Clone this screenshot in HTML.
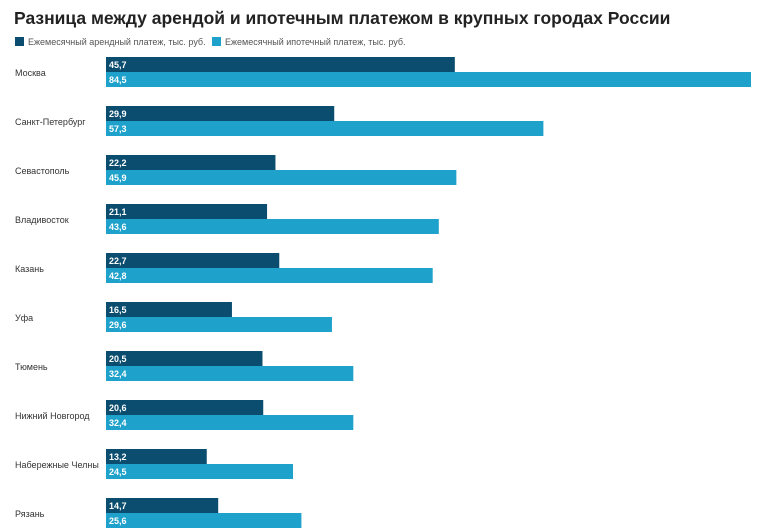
<!DOCTYPE html>
<html><head><meta charset="utf-8"><style>
body{margin:0;background:#fff;font-family:"Liberation Sans",sans-serif}
svg{display:block}
</style></head><body>
<svg id="chart" width="758" height="530" xmlns="http://www.w3.org/2000/svg">
<text x="14" y="24" font-size="17.5" font-weight="bold" fill="#222">Разница между арендой и ипотечным платежом в крупных городах России</text>
<g>
<rect x="15" y="37" width="9" height="9" fill="#0b4d6f"/>
<text x="28" y="45" font-size="9" fill="#555">Ежемесячный арендный платеж, тыс. руб.</text>
<rect x="212" y="37" width="9" height="9" fill="#1ea1cb"/>
<text x="225" y="45" font-size="9" fill="#555">Ежемесячный ипотечный платеж, тыс. руб.</text>
</g>
<g id="bars"></g>
</svg>
<script>
const cities=["Москва","Санкт-Петербург","Севастополь","Владивосток","Казань","Уфа","Тюмень","Нижний Новгород","Набережные Челны","Рязань"];
const rent=[45.7,29.9,22.2,21.1,22.7,16.5,20.5,20.6,13.2,14.7];
const mortgage=[84.5,57.3,45.9,43.6,42.8,29.6,32.4,32.4,24.5,25.6];
const NS="http://www.w3.org/2000/svg";
const x0=106,scale=(751-106)/84.5,y0=57,step=49,bh=15;
const xs=v=>v*scale;
const ys=i=>y0+i*step;
const g=document.getElementById('bars');
function mk(tag,attrs){const e=document.createElementNS(NS,tag);for(const k in attrs)e.setAttribute(k,attrs[k]);return e;}
const fmt=v=>v.toFixed(1).replace('.',',');
cities.forEach((c,i)=>{
  const y=ys(i);
  const lab=mk('text',{x:15,y:y+bh+4,'font-size':9,fill:'#333'});
  
  
  lab.textContent=c;g.appendChild(lab);
  [[rent[i],'#0b4d6f',0,'bar-rent'],[mortgage[i],'#1ea1cb',bh,'bar-mortgage']].forEach(([v,col,off,nm])=>{
    const r=mk('rect',{x:x0,y:y+off,width:xs(v),height:bh,fill:col});
    
    
    g.appendChild(r);
    const t=mk('text',{x:x0+3,y:y+off+11,'font-size':9,'font-weight':'bold',fill:'#fff'});
    
    
    t.textContent=fmt(v);g.appendChild(t);
  });
});
</script>
</body></html>
